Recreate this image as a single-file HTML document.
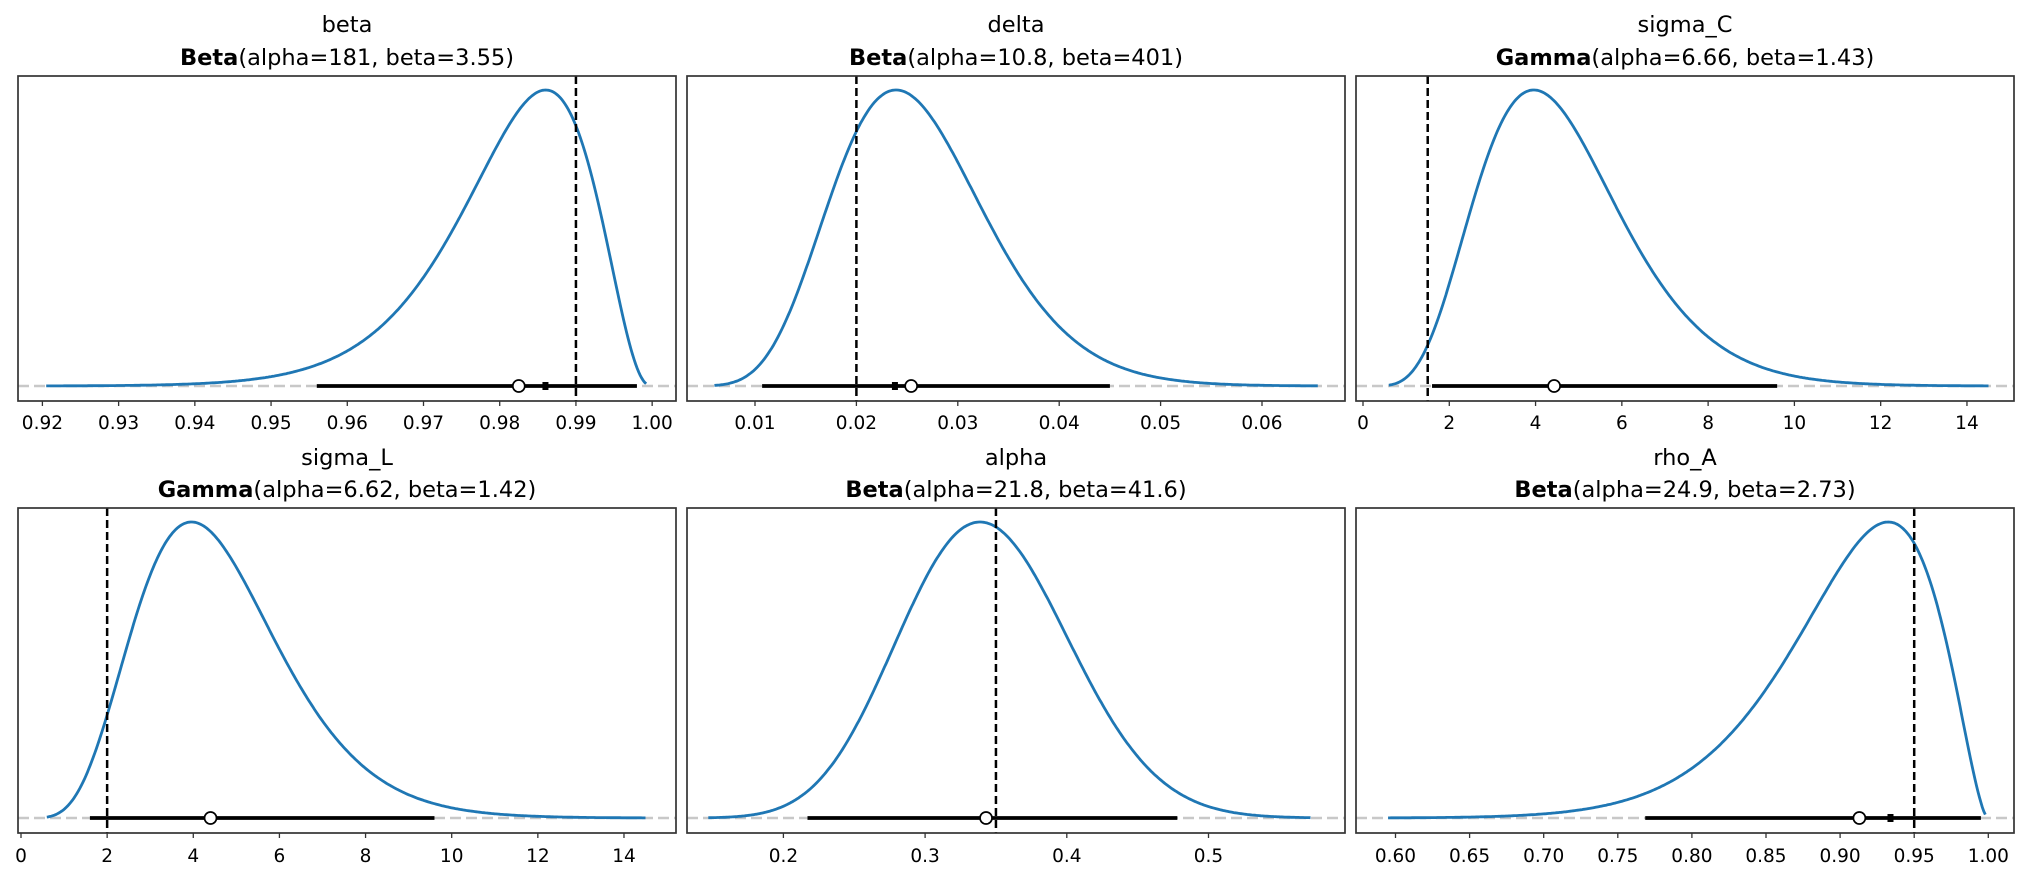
<!DOCTYPE html>
<html><head><meta charset="utf-8"><style>
html,body{margin:0;padding:0;background:#fff;}
svg{display:block;font-family:"DejaVu Sans","Liberation Sans",sans-serif;}
</style></head><body>
<svg id="s" width="2032" height="880" xmlns="http://www.w3.org/2000/svg"></svg>
<script>
function lgamma(z){var g=7,c=[0.99999999999980993,676.5203681218851,-1259.1392167224028,771.32342877765313,-176.61502916214059,12.507343278686905,-0.13857109526572012,9.9843695780195716e-6,1.5056327351493116e-7];
if(z<0.5)return Math.log(Math.PI/Math.sin(Math.PI*z))-lgamma(1-z);z-=1;var x=c[0];for(var i=1;i<g+2;i++)x+=c[i]/(z+i);var t=z+g+0.5;return 0.5*Math.log(2*Math.PI)+(z+0.5)*Math.log(t)-t+Math.log(x);}
var P=[
{n:'beta',d:'Beta',p:'(alpha=181, beta=3.55)',t:'b',a:181,b:3.55,x0:18,x1:676,row:0,t0:0.92,tx0:42.4,tpu:7622,ticks:[0.92,0.93,0.94,0.95,0.96,0.97,0.98,0.99,1.00],fmt:2,c0:0.9205,c1:0.9992,v:0.99,h0:0.956,h1:0.998,ci:0.9825,sq:0.986},
{n:'delta',d:'Beta',p:'(alpha=10.8, beta=401)',t:'b',a:10.8,b:401,x0:687,x1:1345,row:0,t0:0.01,tx0:755,tpu:10140,ticks:[0.01,0.02,0.03,0.04,0.05,0.06],fmt:2,c0:0.006,c1:0.0655,v:0.02,h0:0.0107,h1:0.045,ci:0.0254,sq:0.0238},
{n:'sigma_C',d:'Gamma',p:'(alpha=6.66, beta=1.43)',t:'g',a:6.66,b:1.43,x0:1356,x1:2014,row:0,t0:0,tx0:1363,tpu:43.14,ticks:[0,2,4,6,8,10,12,14],fmt:0,c0:0.6,c1:14.5,v:1.5,h0:1.6,h1:9.6,ci:4.43,sq:null},
{n:'sigma_L',d:'Gamma',p:'(alpha=6.62, beta=1.42)',t:'g',a:6.62,b:1.42,x0:18,x1:676,row:1,t0:0,tx0:21,tpu:43.07,ticks:[0,2,4,6,8,10,12,14],fmt:0,c0:0.6,c1:14.5,v:2,h0:1.6,h1:9.6,ci:4.4,sq:null},
{n:'alpha',d:'Beta',p:'(alpha=21.8, beta=41.6)',t:'b',a:21.8,b:41.6,x0:687,x1:1345,row:1,t0:0.2,tx0:783.4,tpu:1417,ticks:[0.2,0.3,0.4,0.5],fmt:1,c0:0.147,c1:0.572,v:0.35,h0:0.217,h1:0.478,ci:0.343,sq:null},
{n:'rho_A',d:'Beta',p:'(alpha=24.9, beta=2.73)',t:'b',a:24.9,b:2.73,x0:1356,x1:2014,row:1,t0:0.6,tx0:1395.5,tpu:1482,ticks:[0.60,0.65,0.70,0.75,0.80,0.85,0.90,0.95,1.00],fmt:2,c0:0.595,c1:0.998,v:0.95,h0:0.7685,h1:0.995,ci:0.913,sq:0.934}];
var R=[{top:76,bot:401,base:386,peak:90,t1:32,t2:65,tl:429},{top:508,bot:833,base:818,peak:522,t1:465,t2:497,tl:862}];
var h='';
P.forEach(function(q){
 var r=R[q.row];var X=function(v){return q.tx0+(v-q.t0)*q.tpu;};
 var lp=function(x){return q.t=='b'?(q.a-1)*Math.log(x)+(q.b-1)*Math.log(1-x):(q.a-1)*Math.log(x)-q.b*x;};
 var N=400,ys=[],mx=-1e9,i,x;
 for(i=0;i<=N;i++){x=q.c0+(q.c1-q.c0)*i/N;var l=lp(x);ys.push(l);if(l>mx)mx=l;}
 var pts=[];for(i=0;i<=N;i++){x=q.c0+(q.c1-q.c0)*i/N;var y=r.base-(r.base-r.peak)*Math.exp(ys[i]-mx);pts.push(X(x).toFixed(1)+','+y.toFixed(1));}
 var cx=(q.x0+q.x1)/2;
 h+='<text x="'+cx+'" y="'+r.t1+'" font-size="22.5" text-anchor="middle">'+q.n+'</text>';
 h+='<text x="'+cx+'" y="'+r.t2+'" font-size="22.5" text-anchor="middle"><tspan font-weight="bold">'+q.d+'</tspan>'+q.p+'</text>';
 h+='<line x1="'+q.x0+'" x2="'+q.x1+'" y1="'+r.base+'" y2="'+r.base+'" stroke="#c8c8c8" stroke-width="2.6" stroke-dasharray="11,5"/>';
 h+='<polyline points="'+pts.join(' ')+'" fill="none" stroke="#1f77b4" stroke-width="2.8"/>';
 h+='<line x1="'+X(q.h0)+'" x2="'+X(q.h1)+'" y1="'+r.base+'" y2="'+r.base+'" stroke="#000" stroke-width="3.8"/>';
 if(q.sq!==null)h+='<rect x="'+(X(q.sq)-3)+'" y="'+(r.base-4)+'" width="6" height="8" fill="#000"/>';
 h+='<line x1="'+X(q.v)+'" x2="'+X(q.v)+'" y1="'+r.top+'" y2="'+r.bot+'" stroke="#000" stroke-width="2.5" stroke-dasharray="8,4"/>';
 h+='<circle cx="'+X(q.ci)+'" cy="'+r.base+'" r="6" fill="#fff" stroke="#000" stroke-width="1.7"/>';
 h+='<rect x="'+q.x0+'" y="'+r.top+'" width="'+(q.x1-q.x0)+'" height="'+(r.bot-r.top)+'" fill="none" stroke="#333" stroke-width="1.7"/>';
 q.ticks.forEach(function(t){var tx=X(t);h+='<line x1="'+tx+'" x2="'+tx+'" y1="'+r.bot+'" y2="'+(r.bot+5)+'" stroke="#333" stroke-width="1.3"/>';
  h+='<text x="'+tx+'" y="'+r.tl+'" font-size="18.5" text-anchor="middle">'+t.toFixed(q.fmt)+'</text>';});
});
document.getElementById('s').innerHTML=h;
</script>
</body></html>
